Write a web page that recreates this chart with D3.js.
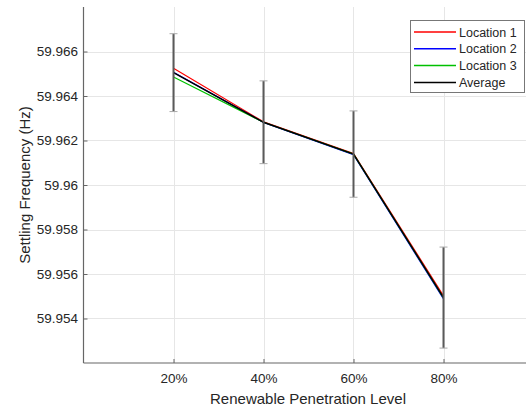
<!DOCTYPE html>
<html>
<head>
<meta charset="utf-8">
<script src="https://cdn.jsdelivr.net/npm/d3@7"></script>
<style>
  html, body { margin: 0; padding: 0; background: #fff; }
  svg { display: block; font-family: "Liberation Sans", Arial, Helvetica, sans-serif; }
</style>
</head>
<body>
<svg id="chart" width="526" height="409"></svg>
<script>
// Penetration levels (fraction) and their tick labels
const levels = [0.2, 0.4, 0.6, 0.8];
const levelLabels = ["20%", "40%", "60%", "80%"];

// Settling frequency (Hz) per location
const location1 = [59.96525, 59.96284, 59.96142, 59.95502];
const location2 = [59.96507, 59.96281, 59.96136, 59.95488];
const location3 = [59.96485, 59.96282, 59.96139, 59.95493];
const average   = [59.96505, 59.96282, 59.96139, 59.95494];
// Half-width of the spread shown around the average
const spread    = [0.00175, 0.00186, 0.00194, 0.00227];

const yTicks = [59.954, 59.956, 59.958, 59.96, 59.962, 59.964, 59.966];

const seriesNames = ["Location 1", "Location 2", "Location 3", "Average"];
const seriesColors = ["#ff0000", "#0000ff", "#00c000", "#000000"];
const seriesWidths = [1.2, 1.2, 1.2, 1.4];
const seriesValues = [location1, location2, location3, average];

const svg = d3.select("#chart");
const margin = { left: 83.5, top: 7, bottom: 363 };

const x = d3.scaleLinear().domain([0, 1]).range([margin.left, margin.left + 450]);
const y = d3.scaleLinear().domain([59.952, 59.968]).range([margin.bottom, margin.top]);

const axisColor = "#666";
const textColor = "#262626";

// Grid
const grid = svg.append("g");
grid.selectAll("line.h").data(yTicks).join("line")
  .attr("x1", margin.left).attr("x2", 526)
  .attr("y1", d => Math.round(y(d)) + 0.5).attr("y2", d => Math.round(y(d)) + 0.5)
  .attr("stroke", "#e6e6e6").attr("stroke-width", 1);
grid.selectAll("line.v").data(levels).join("line")
  .attr("x1", d => Math.round(x(d)) + 0.5).attr("x2", d => Math.round(x(d)) + 0.5)
  .attr("y1", margin.top).attr("y2", margin.bottom)
  .attr("stroke", "#e6e6e6").attr("stroke-width", 1);

// Axes
const xAxis = d3.axisBottom(x).tickValues(levels)
  .tickFormat((d, i) => levelLabels[i]).tickSizeInner(-4).tickSizeOuter(0).tickPadding(10);
const yAxis = d3.axisLeft(y).tickValues(yTicks)
  .tickFormat(d => String(+d.toFixed(3))).tickSizeInner(-4).tickSizeOuter(0).tickPadding(10);

const gx = svg.append("g").attr("transform", `translate(0,${margin.bottom})`).call(xAxis);
const gy = svg.append("g").attr("transform", `translate(${margin.left},0)`).call(yAxis);
[gx, gy].forEach(g => {
  g.select(".domain").attr("stroke", axisColor).attr("stroke-width", 1.2);
  g.selectAll(".tick line").attr("stroke", axisColor);
  g.selectAll(".tick text").attr("fill", textColor).style("font-size", "13.5px")
    .style("font-family", "Liberation Sans, Arial, sans-serif");
});
gy.selectAll(".tick text").attr("x", -5.5);
gx.select(".domain").attr("d", `M${margin.left},0H526`);
gy.select(".domain").attr("d", `M0,${margin.top}V${margin.bottom}`);

// Series lines
const line = d3.line().x((d, i) => x(levels[i])).y(d => y(d));
seriesValues.forEach((vals, k) => {
  svg.append("path").datum(vals)
    .attr("d", line).attr("fill", "none")
    .attr("stroke", seriesColors[k]).attr("stroke-width", seriesWidths[k]);
});

// Spread bars around the average
const bars = svg.append("g");
levels.forEach((lv, i) => {
  const cx = x(lv);
  const lo = y(average[i] - spread[i]);
  const hi = y(average[i] + spread[i]);
  bars.append("line").attr("x1", cx).attr("x2", cx).attr("y1", hi).attr("y2", lo)
    .attr("stroke", "#5a5a5a").attr("stroke-width", 2);
  [hi, lo].forEach(yy => {
    bars.append("line").attr("x1", cx - 4).attr("x2", cx + 4).attr("y1", yy).attr("y2", yy)
      .attr("stroke", "#aaa").attr("stroke-width", 1);
  });
});

// Axis titles
svg.append("text")
  .attr("x", x(0.5) - 0.5).attr("y", 404)
  .attr("text-anchor", "middle").attr("fill", textColor)
  .style("font-size", "15px").text("Renewable Penetration Level");
svg.append("text")
  .attr("transform", `translate(30,${(margin.top + margin.bottom) / 2}) rotate(-90)`)
  .attr("text-anchor", "middle").attr("fill", textColor)
  .style("font-size", "15px").text("Settling Frequency (Hz)");

// Legend
const legend = svg.append("g");
legend.append("rect").attr("x", 410.5).attr("y", 20.5).attr("width", 114).attr("height", 72)
  .attr("fill", "#fff").attr("stroke", "#777").attr("stroke-width", 1);
seriesNames.forEach((name, k) => {
  const cy = 32 + k * 16.8;
  legend.append("path")
    .attr("d", `M414,${cy}H456`)
    .attr("fill", "none")
    .attr("stroke", seriesColors[k]).attr("stroke-width", 1.5);
  legend.append("text").attr("x", 459).attr("y", cy + 4.5)
    .attr("fill", textColor).style("font-size", "12.5px").text(name);
});
</script>
</body>
</html>
